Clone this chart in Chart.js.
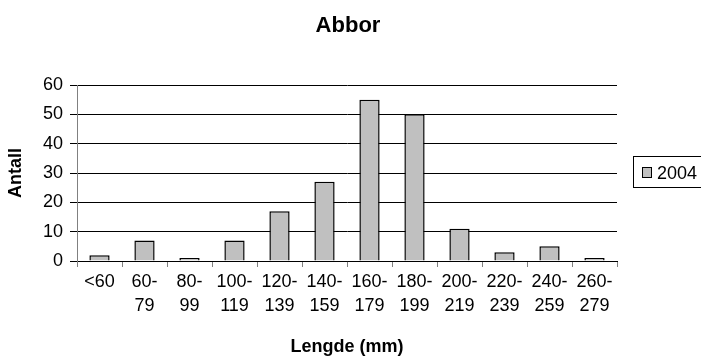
<!DOCTYPE html>
<html>
<head>
<meta charset="utf-8">
<script src="https://cdn.jsdelivr.net/npm/chart.js@4"></script>
<style>
  html, body { margin: 0; padding: 0; background: #fff; }
  #wrap { width: 701px; height: 358px; }
</style>
</head>
<body>
<div id="wrap"><canvas id="barChart" width="701" height="358"></canvas></div>
<script>
const categories = [
  "<60", ["60-", "79"], ["80-", "99"], ["100-", "119"], ["120-", "139"],
  ["140-", "159"], ["160-", "179"], ["180-", "199"], ["200-", "219"],
  ["220-", "239"], ["240-", "259"], ["260-", "279"],
];
const seriesName = "2004";
const counts = [2, 7, 1, 7, 17, 27, 55, 50, 11, 3, 5, 1];
const yTicks = [0, 10, 20, 30, 40, 50, 60];
const chartTitle = "Abbor";

const FONT = "'Liberation Sans', Arial, sans-serif";

// title is centred over the whole picture (incl. legend), so draw it here
const centerTitle = {
  id: "centerTitle",
  afterDraw(chart) {
    const ctx = chart.ctx;
    ctx.save();
    ctx.fillStyle = "#000";
    ctx.font = "bold 22px " + FONT;
    ctx.textAlign = "center";
    ctx.textBaseline = "alphabetic";
    ctx.fillText(chartTitle, 348, 32);
    ctx.restore();
  },
};

// legend with a frame, like the original
const boxLegend = {
  id: "boxLegend",
  afterDraw(chart) {
    const ctx = chart.ctx;
    const ds = chart.data.datasets[0];
    ctx.save();
    ctx.strokeStyle = "#000";
    ctx.lineWidth = 1;
    ctx.strokeRect(633.5, 156.5, 72, 31);
    ctx.fillStyle = ds.backgroundColor;
    ctx.fillRect(642, 167, 10, 11);
    ctx.strokeRect(642.5, 167.5, 9, 10);
    ctx.fillStyle = "#000";
    ctx.font = "18px " + FONT;
    ctx.textBaseline = "alphabetic";
    ctx.fillText(ds.label, 657, 179);
    ctx.restore();
  },
};

const ctx = document.getElementById("barChart").getContext("2d");
new Chart(ctx, {
  type: "bar",
  data: {
    labels: categories,
    datasets: [
      {
        label: seriesName,
        data: counts,
        backgroundColor: "#c0c0c0",
        borderColor: "#000",
        borderWidth: 1.5,
        barPercentage: 0.45,
        categoryPercentage: 1,
      },
    ],
  },
  options: {
    responsive: false,
    animation: false,
    layout: { padding: { left: 0, right: 84, top: 85, bottom: 0 } },
    plugins: {
      legend: { display: false },
      tooltip: { enabled: false },
      title: { display: false },
    },
    scales: {
      x: {
        afterFit: (scale) => { scale.height = 97; },
        grid: {
          offset: true,
          drawOnChartArea: false,
          drawTicks: true,
          tickLength: 6,
          color: "#808080",
        },
        border: { color: "#000", width: 1 },
        ticks: {
          color: "#000",
          font: { family: FONT, size: 18, lineHeight: 1.28 },
          maxRotation: 0,
          autoSkip: false,
          padding: 4,
        },
        title: {
          display: true,
          text: "Lengde (mm)",
          color: "#000",
          font: { family: FONT, size: 18, weight: "bold" },
          padding: { top: 0, bottom: 0 },
        },
      },
      y: {
        min: 0,
        max: 60,
        afterFit: (scale) => { scale.width = 77; },
        afterBuildTicks: (scale) => {
          scale.ticks = yTicks.map((v) => ({ value: v }));
        },
        grid: {
          color: "#000",
          lineWidth: 1,
          tickLength: 7,
        },
        border: { color: "#808080", width: 1 },
        ticks: {
          color: "#000",
          font: { family: FONT, size: 18 },
          padding: 7,
        },
        title: {
          display: true,
          text: "Antall",
          color: "#000",
          font: { family: FONT, size: 18, weight: "bold" },
          padding: { top: 5, bottom: 0 },
        },
      },
    },
  },
  plugins: [centerTitle, boxLegend],
});
</script>
</body>
</html>
